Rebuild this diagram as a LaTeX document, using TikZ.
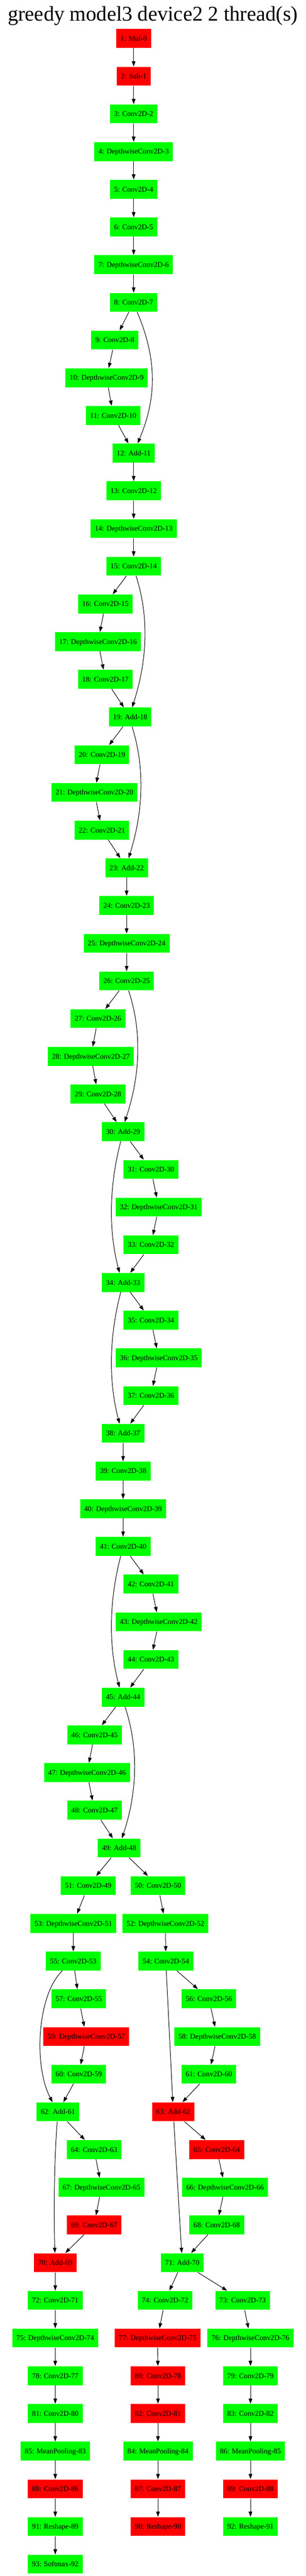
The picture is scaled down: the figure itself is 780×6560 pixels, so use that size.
\documentclass[tikz,border=0pt]{standalone}
\usepackage{fontspec}
\setmainfont{Liberation Serif}
\usepackage{tikz}
\usetikzlibrary{arrows.meta,calc}
\definecolor{opgreen}{HTML}{00FF00}
\definecolor{opred}{HTML}{FF0000}
\tikzset{opbox/.style={inner xsep=8pt, inner ysep=0pt, minimum height=36pt, minimum width=54pt, text height=9.3pt, text depth=0pt, font=\fontsize{14pt}{16pt}\selectfont},
        gop/.style={opbox, fill=opgreen},
        rop/.style={opbox, fill=opred}}

\begin{document}
\begin{tikzpicture}[x=0.75pt, y=-0.75pt, line width=1pt, >={Triangle[length=10pt,width=7pt]}]
        \useasboundingbox (0,0) rectangle (780,6560);
        \node[anchor=base, font=\fontsize{40pt}{48pt}\selectfont] (title) at (390,53) {greedy model3 device2 2 thread(s)};

        \node[rop] (n1) at (341,98) {1: Mul-0};
        \node[rop] (n2) at (341,194) {2: Sub-1};
        \node[gop] (n3) at (341,290) {3: Conv2D-2};
        \node[gop] (n4) at (341,386) {4: DepthwiseConv2D-3};
        \node[gop] (n5) at (341,482) {5: Conv2D-4};
        \node[gop] (n6) at (341,578) {6: Conv2D-5};
        \node[gop] (n7) at (341,674) {7: DepthwiseConv2D-6};
        \node[gop] (n8) at (341,770) {8: Conv2D-7};
        \node[gop] (n9) at (293,866) {9: Conv2D-8};
        \node[gop] (n10) at (272,962) {10: DepthwiseConv2D-9};
        \node[gop] (n11) at (289,1058) {11: Conv2D-10};
        \node[gop] (n12) at (341,1154) {12: Add-11};
        \node[gop] (n13) at (341,1250) {13: Conv2D-12};
        \node[gop] (n14) at (341,1346) {14: DepthwiseConv2D-13};
        \node[gop] (n15) at (341,1442) {15: Conv2D-14};
        \node[gop] (n16) at (269,1538) {16: Conv2D-15};
        \node[gop] (n17) at (250,1634) {17: DepthwiseConv2D-16};
        \node[gop] (n18) at (269,1730) {18: Conv2D-17};
        \node[gop] (n19) at (332,1826) {19: Add-18};
        \node[gop] (n20) at (260,1922) {20: Conv2D-19};
        \node[gop] (n21) at (241,2018) {21: DepthwiseConv2D-20};
        \node[gop] (n22) at (260,2114) {22: Conv2D-21};
        \node[gop] (n23) at (323,2210) {23: Add-22};
        \node[gop] (n24) at (323,2306) {24: Conv2D-23};
        \node[gop] (n25) at (323,2402) {25: DepthwiseConv2D-24};
        \node[gop] (n26) at (323,2498) {26: Conv2D-25};
        \node[gop] (n27) at (250,2594) {27: Conv2D-26};
        \node[gop] (n28) at (232,2690) {28: DepthwiseConv2D-27};
        \node[gop] (n29) at (250,2786) {29: Conv2D-28};
        \node[gop] (n30) at (314,2882) {30: Add-29};
        \node[gop] (n31) at (385,2978) {31: Conv2D-30};
        \node[gop] (n32) at (405,3074) {32: DepthwiseConv2D-31};
        \node[gop] (n33) at (385,3170) {33: Conv2D-32};
        \node[gop] (n34) at (314,3266) {34: Add-33};
        \node[gop] (n35) at (385,3362) {35: Conv2D-34};
        \node[gop] (n36) at (405,3458) {36: DepthwiseConv2D-35};
        \node[gop] (n37) at (385,3554) {37: Conv2D-36};
        \node[gop] (n38) at (314,3650) {38: Add-37};
        \node[gop] (n39) at (314,3746) {39: Conv2D-38};
        \node[gop] (n40) at (314,3842) {40: DepthwiseConv2D-39};
        \node[gop] (n41) at (314,3938) {41: Conv2D-40};
        \node[gop] (n42) at (385,4034) {42: Conv2D-41};
        \node[gop] (n43) at (405,4130) {43: DepthwiseConv2D-42};
        \node[gop] (n44) at (385,4226) {44: Conv2D-43};
        \node[gop] (n45) at (314,4322) {45: Add-44};
        \node[gop] (n46) at (241,4418) {46: Conv2D-45};
        \node[gop] (n47) at (222,4514) {47: DepthwiseConv2D-46};
        \node[gop] (n48) at (241,4610) {48: Conv2D-47};
        \node[gop] (n49) at (304,4706) {49: Add-48};
        \node[gop] (n51) at (225,4802) {51: Conv2D-49};
        \node[gop] (n50) at (403,4802) {50: Conv2D-50};
        \node[gop] (n53) at (187,4898) {53: DepthwiseConv2D-51};
        \node[gop] (n52) at (422,4898) {52: DepthwiseConv2D-52};
        \node[gop] (n55) at (187,4994) {55: Conv2D-53};
        \node[gop] (n54) at (423,4994) {54: Conv2D-54};
        \node[gop] (n57) at (201,5090) {57: Conv2D-55};
        \node[gop] (n56) at (533,5090) {56: Conv2D-56};
        \node[rop] (n59) at (220,5186) {59: DepthwiseConv2D-57};
        \node[gop] (n58) at (554,5186) {58: DepthwiseConv2D-58};
        \node[gop] (n60) at (201,5282) {60: Conv2D-59};
        \node[gop] (n61) at (533,5282) {61: Conv2D-60};
        \node[gop] (n62) at (148,5378) {62: Add-61};
        \node[rop] (n63) at (442,5378) {63: Add-62};
        \node[gop] (n64) at (240,5474) {64: Conv2D-63};
        \node[rop] (n65) at (553,5474) {65: Conv2D-64};
        \node[gop] (n67) at (259,5570) {67: DepthwiseConv2D-65};
        \node[gop] (n66) at (574,5570) {66: DepthwiseConv2D-66};
        \node[rop] (n69) at (240,5666) {69: Conv2D-67};
        \node[gop] (n68) at (553,5666) {68: Conv2D-68};
        \node[rop] (n70) at (141,5762) {70: Add-69};
        \node[gop] (n71) at (465,5762) {71: Add-70};
        \node[gop] (n72) at (141,5858) {72: Conv2D-71};
        \node[gop] (n74) at (421,5858) {74: Conv2D-72};
        \node[gop] (n73) at (619,5858) {73: Conv2D-73};
        \node[gop] (n75) at (141,5954) {75: DepthwiseConv2D-74};
        \node[rop] (n77) at (402,5954) {77: DepthwiseConv2D-75};
        \node[gop] (n76) at (639,5954) {76: DepthwiseConv2D-76};
        \node[gop] (n78) at (141,6050) {78: Conv2D-77};
        \node[rop] (n80) at (403,6050) {80: Conv2D-78};
        \node[gop] (n79) at (639,6050) {79: Conv2D-79};
        \node[gop] (n81) at (141,6146) {81: Conv2D-80};
        \node[rop] (n82) at (403,6146) {82: Conv2D-81};
        \node[gop] (n83) at (639,6146) {83: Conv2D-82};
        \node[gop] (n85) at (141,6242) {85: MeanPooling-83};
        \node[gop] (n84) at (403,6242) {84: MeanPooling-84};
        \node[gop] (n86) at (639,6242) {86: MeanPooling-85};
        \node[rop] (n88) at (141,6338) {88: Conv2D-86};
        \node[rop] (n87) at (403,6338) {87: Conv2D-87};
        \node[rop] (n89) at (639,6338) {89: Conv2D-88};
        \node[gop] (n91) at (141,6434) {91: Reshape-89};
        \node[rop] (n90) at (403,6434) {90: Reshape-90};
        \node[gop] (n92) at (639,6434) {92: Reshape-91};
        \node[gop] (n93) at (141,6530) {93: Softmax-92};

        \draw [->] (n1) -- (n2);
        \draw [->] (n2) -- (n3);
        \draw [->] (n3) -- (n4);
        \draw [->] (n4) -- (n5);
        \draw [->] (n5) -- (n6);
        \draw [->] (n6) -- (n7);
        \draw [->] (n7) -- (n8);
        \draw [->] (n8) -- (n9);
        \draw [->] (n9) -- (n10);
        \draw [->] (n10) -- (n11);
        \draw [->] (n11) -- (n12);
        \draw [->] ($(n8.south)+(9,0)$) .. controls +(50,118) and +(50,-118) .. ($(n12.north)+(10,0)$);
        \draw [->] (n12) -- (n13);
        \draw [->] (n13) -- (n14);
        \draw [->] (n14) -- (n15);
        \draw [->] (n15) -- (n16);
        \draw [->] (n16) -- (n17);
        \draw [->] (n17) -- (n18);
        \draw [->] (n18) -- (n19);
        \draw [->] ($(n15.south)+(6,0)$) .. controls +(36,110) and +(36,-110) .. ($(n19.north)+(5,0)$);
        \draw [->] (n19) -- (n20);
        \draw [->] (n20) -- (n21);
        \draw [->] (n21) -- (n22);
        \draw [->] (n22) -- (n23);
        \draw [->] ($(n19.south)+(5,0)$) .. controls +(35,110) and +(35,-110) .. ($(n23.north)+(5,0)$);
        \draw [->] (n23) -- (n24);
        \draw [->] (n24) -- (n25);
        \draw [->] (n25) -- (n26);
        \draw [->] (n26) -- (n27);
        \draw [->] (n27) -- (n28);
        \draw [->] (n28) -- (n29);
        \draw [->] (n29) -- (n30);
        \draw [->] ($(n26.south)+(5,0)$) .. controls +(37,110) and +(37,-110) .. ($(n30.north)+(4,0)$);
        \draw [->] (n30) -- (n31);
        \draw [->] (n31) -- (n32);
        \draw [->] (n32) -- (n33);
        \draw [->] (n33) -- (n34);
        \draw [->] ($(n30.south)+(-6,0)$) .. controls +(-29,110) and +(-29,-110) .. ($(n34.north)+(-9,0)$);
        \draw [->] (n34) -- (n35);
        \draw [->] (n35) -- (n36);
        \draw [->] (n36) -- (n37);
        \draw [->] (n37) -- (n38);
        \draw [->] ($(n34.south)+(-6,0)$) .. controls +(-29,110) and +(-29,-110) .. ($(n38.north)+(-9,0)$);
        \draw [->] (n38) -- (n39);
        \draw [->] (n39) -- (n40);
        \draw [->] (n40) -- (n41);
        \draw [->] (n41) -- (n42);
        \draw [->] (n42) -- (n43);
        \draw [->] (n43) -- (n44);
        \draw [->] (n44) -- (n45);
        \draw [->] ($(n41.south)+(-6,0)$) .. controls +(-29,110) and +(-29,-110) .. ($(n45.north)+(-9,0)$);
        \draw [->] (n45) -- (n46);
        \draw [->] (n46) -- (n47);
        \draw [->] (n47) -- (n48);
        \draw [->] (n48) -- (n49);
        \draw [->] ($(n45.south)+(5,0)$) .. controls +(37,110) and +(37,-110) .. ($(n49.north)+(7,0)$);
        \draw [->] (n49) -- (n51);
        \draw [->] (n49) -- (n50);
        \draw [->] (n51) -- (n53);
        \draw [->] (n53) -- (n55);
        \draw [->] (n55) -- (n57);
        \draw [->] (n57) -- (n59);
        \draw [->] (n59) -- (n60);
        \draw [->] (n60) -- (n62);
        \draw [->] ($(n55.south)+(-28,0)$) .. controls +(-64,61) and +(-49,-94) .. ($(n62.north)+(-14,0)$);
        \draw [->] (n50) -- (n52);
        \draw [->] (n52) -- (n54);
        \draw [->] (n54) -- (n56);
        \draw [->] (n56) -- (n58);
        \draw [->] (n58) -- (n61);
        \draw [->] (n61) -- (n63);
        \draw [->] (n54) -- (n63);
        \draw [->] (n62) -- (n64);
        \draw [->] (n64) -- (n67);
        \draw [->] (n67) -- (n69);
        \draw [->] (n69) -- (n70);
        \draw [->] ($(n62.south)+(-2,0)$) .. controls +(-8,100) and +(-3,-100) .. ($(n70.north)+(-1,0)$);
        \draw [->] (n63) -- (n65);
        \draw [->] (n65) -- (n66);
        \draw [->] (n66) -- (n68);
        \draw [->] (n68) -- (n71);
        \draw [->] (n63) -- (n71);
        \draw [->] (n70) -- (n72);
        \draw [->] (n72) -- (n75);
        \draw [->] (n75) -- (n78);
        \draw [->] (n78) -- (n81);
        \draw [->] (n81) -- (n85);
        \draw [->] (n85) -- (n88);
        \draw [->] (n88) -- (n91);
        \draw [->] (n91) -- (n93);
        \draw [->] (n71) -- (n74);
        \draw [->] (n71) -- (n73);
        \draw [->] (n74) -- (n77);
        \draw [->] (n77) -- (n80);
        \draw [->] (n80) -- (n82);
        \draw [->] (n82) -- (n84);
        \draw [->] (n84) -- (n87);
        \draw [->] (n87) -- (n90);
        \draw [->] (n73) -- (n76);
        \draw [->] (n76) -- (n79);
        \draw [->] (n79) -- (n83);
        \draw [->] (n83) -- (n86);
        \draw [->] (n86) -- (n89);
        \draw [->] (n89) -- (n92);
    \end{tikzpicture}
\end{document}
